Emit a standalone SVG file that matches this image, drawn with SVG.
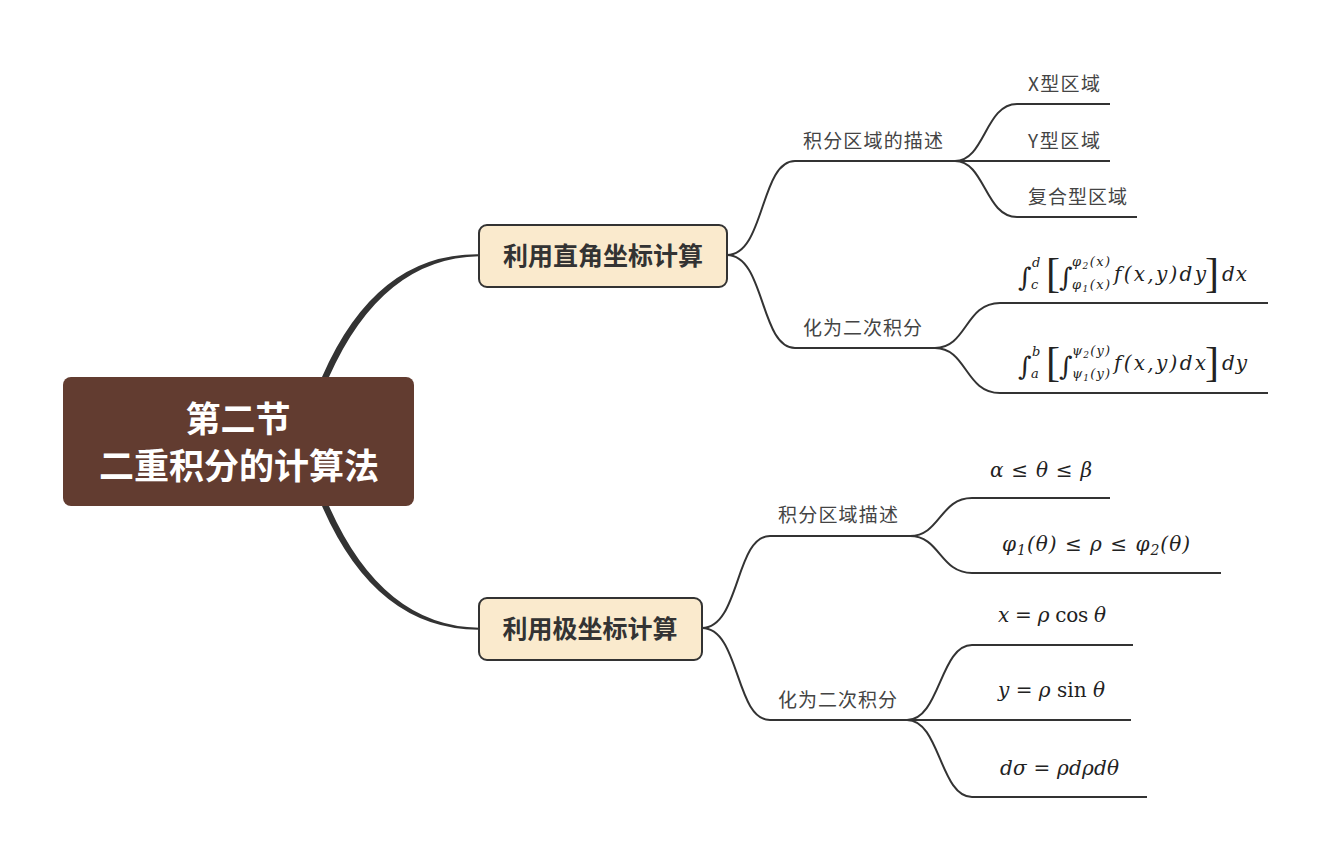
<svg xmlns="http://www.w3.org/2000/svg" width="1330" height="861" viewBox="0 0 1330 861">
<style>
.bg{fill:#ffffff}
.root{fill:#623c30}
.rootText{font-family:"Noto Sans CJK SC","Noto Sans",sans-serif;font-weight:bold;font-size:35px;fill:#ffffff;text-anchor:middle}
.main{fill:#faeacd;stroke:#333333;stroke-width:2}
.mainText{font-family:"Noto Sans CJK SC","Noto Sans",sans-serif;font-weight:bold;font-size:25px;fill:#333333;text-anchor:middle}
.lbl{font-family:"Noto Sans CJK SC","Noto Sans",sans-serif;font-size:19px;fill:#444444}
.m{font-family:"DejaVu Serif","Liberation Serif",serif;font-style:italic;font-size:20px;fill:#222222}
.ms{font-family:"DejaVu Serif","Liberation Serif",serif;font-style:italic;font-size:13px;fill:#222222}
.sym{font-family:"DejaVu Serif","Liberation Serif",serif;font-size:26px;fill:#222222}
.br{font-family:"Liberation Serif","DejaVu Serif",serif;font-size:42px;fill:#222222}
.c{fill:none;stroke:#333333;stroke-width:2}
.thick{fill:#333333;stroke:none}
</style>
<rect class="bg" x="0" y="0" width="1330" height="861"/>
<g id="connectors">
<path class="thick" d="M322,377 Q376,253 479,254.3 L479,256.2 Q382,258 329,377 Z"/>
<path class="thick" d="M322,506 Q376,630 479,629.7 L479,627.8 Q382,626 329,506 Z"/>
<path class="c" d="M727,255 C765,255 760,161 795,161 H957"/>
<path class="c" d="M727,255 C765,255 760,348 795,348 H935"/>
<path class="c" d="M955,161 C985,161 985,104 1017,104 H1110"/>
<path class="c" d="M955,161 H1110"/>
<path class="c" d="M955,161 C985,161 985,217 1017,217 H1137"/>
<path class="c" d="M935,348 C967,348 965,303 1000,303 H1268"/>
<path class="c" d="M935,348 C967,348 965,393 1000,393 H1268"/>
<path class="c" d="M702,628 C740,628 735,536 770,536 H912"/>
<path class="c" d="M702,628 C740,628 735,720 770,720 H909"/>
<path class="c" d="M910,536 C940,536 940,498 972,498 H1110"/>
<path class="c" d="M910,536 C940,536 940,573 972,573 H1221"/>
<path class="c" d="M907,720 C940,720 940,645 972,645 H1133"/>
<path class="c" d="M907,720 H1131"/>
<path class="c" d="M907,720 C940,720 940,797 972,797 H1147"/>
</g>
<g id="root">
<rect class="root" x="63" y="377" width="351" height="129" rx="8"/>
<text class="rootText" x="238" y="432">第二节</text>
<text class="rootText" x="239" y="479">二重积分的计算法</text>
</g>
<g id="node-rect">
<rect class="main" x="479" y="225" width="248" height="62" rx="8"/>
<text class="mainText" x="603" y="265">利用直角坐标计算</text>
</g>
<g id="node-polar">
<rect class="main" x="479" y="598" width="223" height="62" rx="8"/>
<text class="mainText" x="590" y="638">利用极坐标计算</text>
</g>
<g id="region-desc">
<text class="lbl" x="803" y="148" textLength="140">积分区域的描述</text>
</g>
<g id="x-type"><text class="lbl" x="1028" y="91" textLength="72">X型区域</text></g>
<g id="y-type"><text class="lbl" x="1028" y="148" textLength="72">Y型区域</text></g>
<g id="compound"><text class="lbl" x="1028" y="204" textLength="99">复合型区域</text></g>
<g id="to-iterated">
<text class="lbl" x="803" y="335" textLength="119">化为二次积分</text>
</g>
<g id="formula1">
<text class="sym" x="1018" y="286">∫</text>
<text class="ms" x="1032" y="267">d</text>
<text class="ms" x="1031" y="289">c</text>
<text class="br" x="1046" y="287">[</text>
<text class="sym" x="1059" y="286">∫</text>
<text class="ms" x="1072" y="266" textLength="38">φ<tspan font-size="9" dy="3">2</tspan><tspan dy="-3">(x)</tspan></text>
<text class="ms" x="1072" y="289" textLength="38">φ<tspan font-size="9" dy="3">1</tspan><tspan dy="-3">(x)</tspan></text>
<text class="m" x="1114" y="281" textLength="92">f(x,y)dy</text>
<text class="br" x="1205" y="287">]</text>
<text class="m" x="1222" y="281" textLength="25">dx</text>
</g>
<g id="formula2">
<text class="sym" x="1018" y="375">∫</text>
<text class="ms" x="1032" y="356">b</text>
<text class="ms" x="1031" y="378">a</text>
<text class="br" x="1046" y="376">[</text>
<text class="sym" x="1059" y="375">∫</text>
<text class="ms" x="1072" y="355" textLength="38">ψ<tspan font-size="9" dy="3">2</tspan><tspan dy="-3">(y)</tspan></text>
<text class="ms" x="1072" y="378" textLength="38">ψ<tspan font-size="9" dy="3">1</tspan><tspan dy="-3">(y)</tspan></text>
<text class="m" x="1114" y="370" textLength="92">f(x,y)dx</text>
<text class="br" x="1205" y="376">]</text>
<text class="m" x="1222" y="370" textLength="25">dy</text>
</g>
<g id="polar-region">
<text class="lbl" x="778" y="522" textLength="120">积分区域描述</text>
</g>
<g id="theta-range"><text class="m" x="990" y="477" textLength="102">α ≤ θ ≤ β</text></g>
<g id="rho-range"><text class="m" x="1002" y="551" textLength="188">φ<tspan font-size="14" dy="4">1</tspan><tspan dy="-4">(θ) ≤ ρ ≤ φ</tspan><tspan font-size="14" dy="4">2</tspan><tspan dy="-4">(θ)</tspan></text></g>
<g id="polar-iterated">
<text class="lbl" x="778" y="707" textLength="119">化为二次积分</text>
</g>
<g id="x-eq"><text class="m" x="998" y="622" textLength="108">x = ρ <tspan font-style="normal">cos</tspan> θ</text></g>
<g id="y-eq"><text class="m" x="998" y="697" textLength="107">y = ρ <tspan font-style="normal">sin</tspan> θ</text></g>
<g id="dsigma"><text class="m" x="1000" y="775" textLength="119">dσ = ρdρdθ</text></g>
</svg>
